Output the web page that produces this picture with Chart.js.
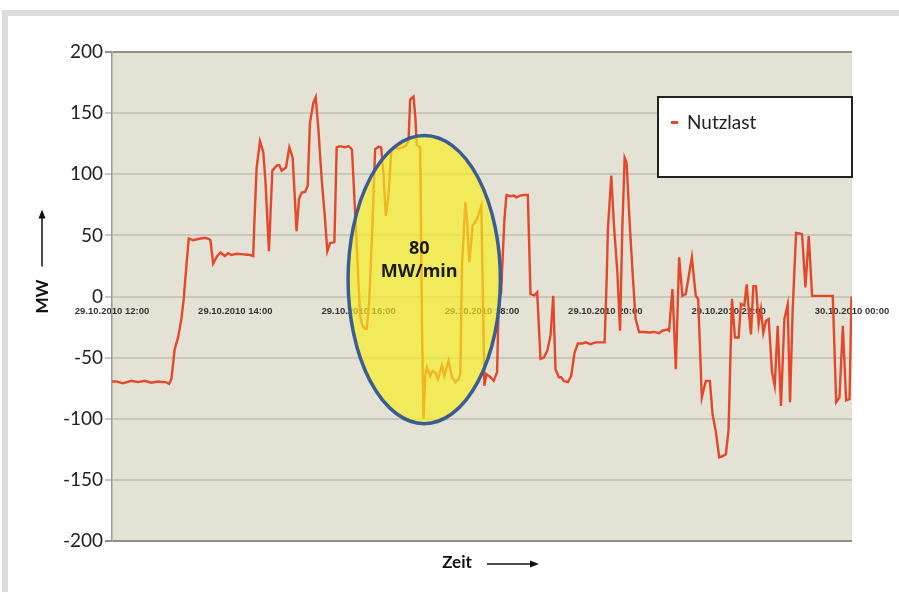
<!DOCTYPE html>
<html>
<head>
<meta charset="utf-8">
<script src="https://cdn.jsdelivr.net/npm/chart.js@4.4.0/dist/chart.umd.min.js"></script>
<style>
  html, body { margin: 0; padding: 0; background: #fff; }
  #wrap { position: relative; width: 899px; height: 592px; overflow: hidden; }
  #frame { position: absolute; left: 2px; top: 10px; width: 897px; height: 582px; box-sizing: border-box;
           border-top: 6px solid #dcdcde; border-left: 6px solid #dcdcde; }
  canvas { position: absolute; left: 0; top: 0; }
</style>
</head>
<body>
<div id="wrap"><div id="frame"></div><canvas id="lineChart" width="899" height="592"></canvas></div>
<script>
// Minuten ab 29.10.2010 12:00
var zeit = [0, 4, 10.7, 18.8, 25.3, 31.8, 38.3, 44.8, 49.7, 52.3, 55.5, 57.8, 61, 64.3, 67.5, 69.8, 72.4, 74.7, 78.9, 83.8,
  90.3, 94.5, 95.8, 98.4, 102.3, 105.6, 109.8, 113, 116.3, 121.2, 127.7, 134.2, 137.4, 138.4, 140.7, 144, 147.2, 149.4, 152.7, 156,
  160.2, 162.8, 165, 169.3, 172.5, 175.8, 179.6, 181.9, 184.5, 187.8, 190.4, 192.6, 195.9, 198.2, 200.8, 204, 207.3, 209.5, 212.1, 216.4,
  218.6, 221.9, 226.8, 230, 231.6, 233.5, 238, 241.4, 243.7, 246.3, 247.9, 250.2, 253.4, 256, 259.3, 261.9, 264.1, 266.4, 269, 271.6,
  273.9, 278.8, 282, 285.3, 288.5, 290.1, 293.4, 295, 296.6, 299.9, 301.5, 303.1, 304.8, 306.4, 309.6, 311.9, 314.5, 317.1, 321, 323.3,
  327.5, 330.8, 334, 337.3, 338.9, 340.5, 343.8, 345.4, 347.7, 350.9, 355.1, 357.4, 359.4, 362.3, 364.3, 368.2, 371.4, 374.7, 376.3, 378.6,
  381.8, 383.8, 387.7, 390.9, 393.5, 397, 400.7, 404.6, 407.2, 411.1, 413.7, 416.9, 420.2, 423.4, 426.7, 429.3, 431.5, 434.8, 437, 439.7,
  443.6, 446.8, 450, 453.3, 457.5, 460.8, 465.6, 470.5, 479.3, 481.3, 482.5, 485.8, 488.4, 491.7, 494.3, 496.5, 498.8, 500.7, 504, 507.3,
  509.5, 512.8, 517.7, 522.5, 527.4, 532.3, 535.5, 540.4, 542, 545.3, 548.6, 551.8, 555, 558.3, 564.2, 568, 570.3, 573.9, 577.8, 581.7,
  584.3, 587.6, 590.8, 594.1, 597.3, 599.9, 603.2, 606.1, 609.7, 611.9, 615.2, 617.5, 620, 621.7, 624, 626.6, 629.2, 631.4, 633.7, 636.3,
  638.9, 642.2, 644.8, 647.7, 650.9, 654.2, 657.4, 659.7, 662.3, 665.6, 668.8, 671.4, 674.7, 677.9, 681.2, 701.3, 704.6, 707.8, 711.1, 714.3,
  717.6, 719.5];

// MW
var nutzlast = [-69.5, -69.5, -71, -69, -70, -69, -70.5, -69.5, -70, -70, -71.5, -67.5, -43, -33.5, -18.5, -2, 25, 47.5, 46, 47,
  48, 47, 46, 27, 33, 36, 33, 35.5, 34, 35, 34.5, 34, 33, 58, 105, 127, 118, 93, 37, 103,
  107, 107.5, 103, 105.5, 122, 113.5, 53.5, 79.5, 85, 85.5, 90.5, 142, 158.5, 163, 137, 96, 63, 37, 43.5, 44.5,
  122, 123, 122, 123, 122, 120, 44, -16, -24, -26.5, -26.5, -5, 58, 120.5, 122.5, 122, 101, 66, 82, 118,
  122, 121, 122, 123, 127, 161, 163.5, 148, 124, 122, -18, -100, -65, -58, -65, -61, -62, -67.5, -56.5, -65,
  -52.5, -66, -70, -67.5, -63.5, 25, 77, 63, 28, 58, 63, 69, 74, -73, -63.5, -66, -69, -62, -2, 3,
  63, 83, 82, 82.5, 81, 82.5, 83, 83, 2, 1, 3.5, -51, -50, -44.5, -32, 0.5, -59.5, -66, -66, -69,
  -70, -65, -46, -38.5, -38.5, -37.5, -39, -37.5, -37.5, 14, 55, 99, 58, 20, -28, 55, 113.5, 109.5, 55, 9,
  -18.5, -29, -29, -29.5, -29, -30, -28, -27, -28, 6, -59.5, 32, 0.5, 2, 32, 0.5, -2, -82.5, -69, -69,
  -96, -111, -131.5, -130.5, -129, -108.5, -2, -33.5, -33.5, -6, -7.5, 10, -16, -31, 8.5, 8.5, -22.5, -10.5, -29.5, -20,
  -18.5, -62, -73, -24, -89.5, -18.5, -6.5, -86.5, -10.5, 52, 51.5, 51, 7.5, 49.5, 0.5, 0.5, -86.5, -82.5, -24, -85,
  -84, 0];

var tickLabels = ["29.10.2010 12:00", "29.10.2010 14:00", "29.10.2010 16:00", "29.10.2010 18:00",
  "29.10.2010 20:00", "29.10.2010 22:00", "30.10.2010 00:00"];

var markText = ["80", "MW/min"];
// Ellipse in Datenkoordinaten (Minuten / MW)
var markArea = { tMin: 229.7, tMax: 377.9, vMin: -104, vMax: 131.7 };

var bgPlugin = {
  id: 'plotBg',
  beforeDraw: function (chart) {
    var a = chart.chartArea, c = chart.ctx;
    c.save();
    c.fillStyle = '#e3e2d4';
    c.fillRect(a.left, a.top, a.right - a.left, a.bottom - a.top);
    c.restore();
  }
};

var ellipsePlugin = {
  id: 'markEllipse',
  afterDraw: function (chart) {
    var xs = chart.scales.x, ys = chart.scales.y, c = chart.ctx;
    var l = xs.getPixelForValue(markArea.tMin), r = xs.getPixelForValue(markArea.tMax);
    var t = ys.getPixelForValue(markArea.vMax), b = ys.getPixelForValue(markArea.vMin);
    var cx = (l + r) / 2, cy = (t + b) / 2;
    c.save();
    c.beginPath();
    c.ellipse(cx, cy, (r - l) / 2, (b - t) / 2, 0, 0, Math.PI * 2);
    c.fillStyle = 'rgba(247, 240, 30, 0.66)';
    c.fill();
    c.lineWidth = 3.5;
    c.strokeStyle = '#3c5d92';
    c.stroke();
    c.fillStyle = '#1a1a1a';
    c.textAlign = 'center';
    c.textBaseline = 'middle';
    c.font = 'bold 18px "Open Sans"';
    c.fillText(markText[0], cx - 5, cy - 31);
    c.fillText(markText[1], cx - 5, cy - 8);
    c.restore();
  }
};

var legendPlugin = {
  id: 'boxLegend',
  afterDraw: function (chart) {
    var a = chart.chartArea, c = chart.ctx, ds = chart.data.datasets[0];
    var w = 194, h = 80, x = a.right - w, y = a.top + 45;
    c.save();
    c.fillStyle = '#ffffff';
    c.fillRect(x, y, w, h);
    c.lineWidth = 2;
    c.strokeStyle = '#222';
    c.strokeRect(x, y, w, h);
    c.strokeStyle = ds.borderColor;
    c.lineWidth = 3;
    c.beginPath();
    c.moveTo(x + 13, y + 25.5);
    c.lineTo(x + 20, y + 25.5);
    c.stroke();
    c.fillStyle = '#222';
    c.font = '19px Lato';
    c.textBaseline = 'middle';
    c.fillText(ds.label, x + 29, y + 26);
    c.restore();
  }
};

function arrow(c, x1, y1, x2, y2) {
  var ang = Math.atan2(y2 - y1, x2 - x1);
  c.beginPath();
  c.moveTo(x1, y1);
  c.lineTo(x2 - 8 * Math.cos(ang), y2 - 8 * Math.sin(ang));
  c.stroke();
  c.beginPath();
  c.moveTo(x2, y2);
  c.lineTo(x2 - 9 * Math.cos(ang) + 3.5 * Math.sin(ang), y2 - 9 * Math.sin(ang) - 3.5 * Math.cos(ang));
  c.lineTo(x2 - 9 * Math.cos(ang) - 3.5 * Math.sin(ang), y2 - 9 * Math.sin(ang) + 3.5 * Math.cos(ang));
  c.closePath();
  c.fill();
}

var axisTitlePlugin = {
  id: 'axisTitles',
  afterDraw: function (chart) {
    var a = chart.chartArea, c = chart.ctx;
    var mid = (a.left + a.right) / 2;
    c.save();
    c.fillStyle = '#111';
    c.strokeStyle = '#111';
    c.lineWidth = 1.5;
    c.font = 'bold 17px Lato';
    c.textAlign = 'center';
    c.textBaseline = 'middle';
    c.fillText('Zeit', mid - 25, a.bottom + 22);
    arrow(c, mid + 5, a.bottom + 23, mid + 57, a.bottom + 23);
    var cy = (a.top + a.bottom) / 2;
    arrow(c, 42, cy - 30, 42, cy - 87);
    c.restore();
  }
};

var ctx = document.getElementById("lineChart").getContext('2d');
var myLineChart = new Chart(ctx, {
  type: 'line',
  data: {
    datasets: [{
      label: "Nutzlast",
      data: zeit.map(function (t, i) { return { x: t, y: nutzlast[i] }; }),
      borderColor: '#e4472a',
      borderWidth: 2.4,
      pointRadius: 0,
      tension: 0,
      fill: false
    }]
  },
  options: {
    responsive: false,
    animation: false,
    layout: { padding: { left: 0, top: 52, right: 47, bottom: 51 } },
    plugins: {
      legend: { display: false },
      tooltip: { enabled: false }
    },
    scales: {
      x: {
        type: 'linear',
        position: { y: 0 },
        min: 0,
        max: 720,
        grid: { display: false, drawTicks: false },
        border: { display: false },
        ticks: {
          stepSize: 120,
          autoSkip: false,
          maxRotation: 0,
          padding: 9,
          color: '#333',
          font: { family: 'Liberation Sans', size: 9.5, weight: 'bold' },
          callback: function (v) { return tickLabels[Math.round(v / 120)]; }
        }
      },
      y: {
        min: -200,
        max: 200,
        afterFit: function (scale) { scale.width = 112; },
        ticks: { stepSize: 50, color: '#222', padding: 2, font: { family: 'Lato', size: 19 } },
        grid: {
          color: function (c) { return (c.tick && Math.abs(c.tick.value) === 200) ? '#8f8f8f' : '#c9c7b9'; },
          lineWidth: 2,
          tickLength: 7
        },
        border: { color: '#999', width: 1.5 },
        title: {
          display: true,
          text: 'MW',
          color: '#111',
          font: { family: 'Lato', size: 17, weight: 'bold' },
          padding: { top: 32, bottom: 0 }
        }
      }
    }
  },
  plugins: [bgPlugin, ellipsePlugin, legendPlugin, axisTitlePlugin]
});
</script>
</body>
</html>
